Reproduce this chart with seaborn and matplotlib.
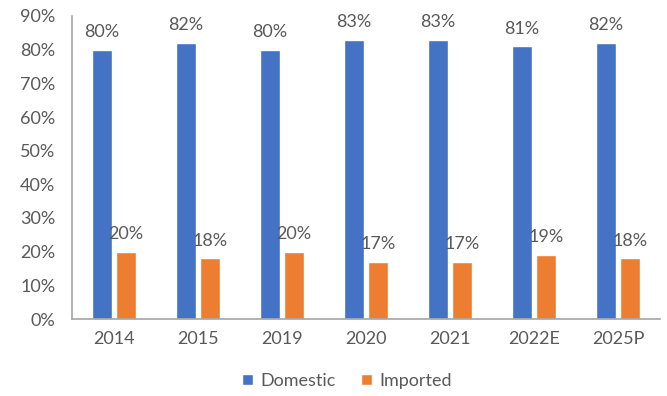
import matplotlib
matplotlib.use("Agg")
import matplotlib.pyplot as plt
import seaborn as sns
import pandas as pd

years = ["2014", "2015", "2019", "2020", "2021", "2022E", "2025P"]
domestic = [80, 82, 80, 83, 83, 81, 82]
imported = [20, 18, 20, 17, 17, 19, 18]
series_names = ["Domestic", "Imported"]
colors = ["#4472C4", "#ED7D31"]
y_ticks = [0, 10, 20, 30, 40, 50, 60, 70, 80, 90]

sns.set_theme(style="white")
plt.rcParams["font.family"] = ["Lato", "DejaVu Sans"]
text_color = "#595959"
fs = 13

df = pd.DataFrame({
    "year": years * 2,
    "share": domestic + imported,
    "source": [series_names[0]] * len(years) + [series_names[1]] * len(years),
})

fig = plt.figure(figsize=(6.67, 3.96), dpi=100)
ax = fig.add_axes([72 / 667, 1 - 319 / 396, 588 / 667, 303 / 396])

sns.barplot(data=df, x="year", y="share", hue="source", palette=colors,
            width=0.57, gap=0.2, ax=ax, saturation=1, legend=True)

for container in ax.containers:
    ax.bar_label(container, labels=[f"{v:.0f}%" for v in container.datavalues],
                 padding=7, fontsize=fs, color=text_color)

ax.set_ylim(0, 90)
ax.set_yticks(y_ticks)
ax.set_yticklabels([f"{t}%" for t in y_ticks])
ax.set_xlim(-0.5, len(years) - 0.5)
ax.set_xlabel("")
ax.set_ylabel("")
ax.tick_params(axis="both", length=0, labelsize=fs, colors=text_color)
ax.tick_params(axis="x", pad=9)
ax.tick_params(axis="y", pad=12)

for side in ["top", "right"]:
    ax.spines[side].set_visible(False)
for side in ["left", "bottom"]:
    ax.spines[side].set_color("#A6A6A6")
    ax.spines[side].set_linewidth(1.2)

handles, labels = ax.get_legend_handles_labels()
ax.legend(handles, labels, loc="center", bbox_to_anchor=(347 / 667, 1 - 381 / 396),
          bbox_transform=fig.transFigure,
          ncol=2, frameon=False, fontsize=fs, handlelength=0.6,
          handleheight=0.6, handletextpad=0.4, columnspacing=1.4,
          labelcolor=text_color)

fig.savefig("out.png", dpi=100, facecolor="white")
